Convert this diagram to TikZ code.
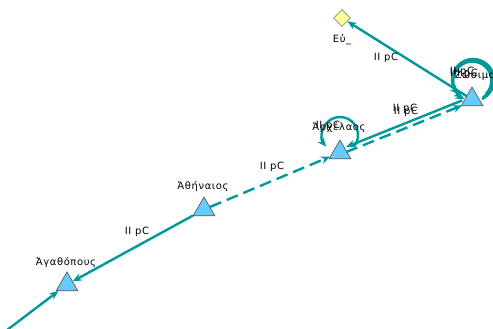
\documentclass[tikz,border=0pt]{standalone}
\usepackage{fontspec}
\newfontfamily\lblfont[LetterSpace=6]{DejaVu Sans}
\usetikzlibrary{shapes.geometric,arrows.meta,positioning}
\definecolor{edgeteal}{RGB}{0,153,153}
\definecolor{triblue}{RGB}{102,204,255}
\definecolor{diayel}{RGB}{255,255,153}
\tikzset{
  person/.style={regular polygon, regular polygon sides=3, minimum size=25pt, inner sep=0pt, fill=triblue, draw=black!70, line width=0.6pt},
  place/.style={diamond, minimum width=17pt, minimum height=17pt, inner sep=0pt, fill=diayel, draw=black!45, line width=0.6pt},
  lbl/.style={font=\lblfont\fontsize{10}{10}\selectfont, text=black, inner sep=0pt},
  rel/.style={draw=edgeteal, line width=2.4pt, -{Stealth[length=9pt,width=7.5pt]}},
  reldash/.style={rel, dash pattern=on 12pt off 6pt},
}
\begin{document}
\begin{tikzpicture}[x=1pt,y=1pt]
\clip (0,0) rectangle (493,329);
\fill[white] (0,0) rectangle (493,329);
% nodes
\node[place] (eu) at (342,311) {};
\node[person] (z) at (472,229.5) {};
\node[person] (a) at (340,176.5) {};
\node[person] (ath) at (204,119.5) {};
\node[person] (ag) at (67,44.5) {};
\coordinate (src) at (-10,-14);
% edges
\draw[rel] (z) -- (eu);
\draw[rel, transform canvas={yshift=3pt}] (z) -- (a);
\draw[reldash, transform canvas={yshift=-2pt}] (a) -- (z);
\draw[reldash] (ath) -- (a);
\draw[rel] (ath) -- (ag);
\draw[rel] (src) -- (ag);
% loops
\draw[rel] (a.center) ++(13.8,5.9) arc[start angle=-40, end angle=220, radius=18pt];
\draw[rel] (z.center) ++(11,2.2) arc[start angle=-60, end angle=240, radius=20pt];
\draw[rel] (z.center) ++(13.8,5.5) arc[start angle=-45, end angle=225, radius=19pt];
\draw[rel] (z.center) ++(10,0.5) arc[start angle=-65, end angle=245, radius=21pt];
% node labels
\node[lbl] (eul) at (342,289) {Εὐ\_};
\node[lbl] (zl) at (478,253) {Ζώσιμος};
\node[lbl] (al) at (339,201) {Ἀρχέλαος};
\node[lbl] (athl) at (203,142) {Ἀθήναιος};
\node[lbl] (agl) at (66,66) {Ἀγαθόπους};
% edge labels
\node[lbl] (l1) at (386,271) {II pC};
\node[lbl] (l2) at (405,220) {II pC};
\node[lbl] (l3) at (406,217) {II pC};
\node[lbl] (l4) at (272,162) {II pC};
\node[lbl] (l5) at (137,97) {II pC};
\node[lbl] (l6) at (328,203) {II pC};
\node[lbl] (l7) at (462,257) {II pC};
\node[lbl] (l8) at (464,255) {III pC};
\end{tikzpicture}
\end{document}
